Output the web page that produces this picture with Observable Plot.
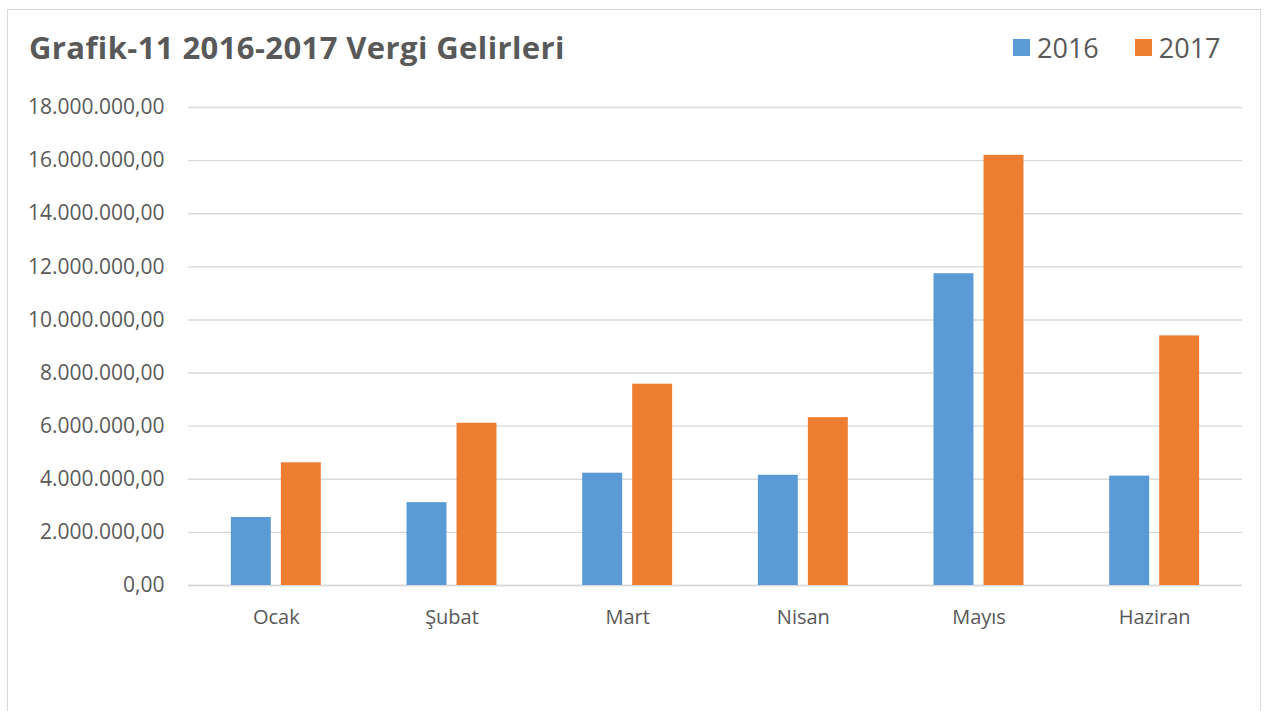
<!DOCTYPE html>
<html>
<head>
<meta charset="utf-8">
<script src="https://cdn.jsdelivr.net/npm/d3@7"></script>
<script src="https://cdn.jsdelivr.net/npm/@observablehq/plot@0.6"></script>
<style>
  html, body { margin: 0; padding: 0; background: #fff; }
  #wrap { position: relative; width: 1271px; height: 711px; overflow: hidden; font-family: "Open Sans", sans-serif; color: #595959; }
  #frame { position: absolute; left: 7px; top: 9px; width: 1254px; height: 720px; border: 1px solid #d9d9d9; box-sizing: border-box; }
  #title { position: absolute; left: 29px; top: 26px; font-size: 31px; font-weight: 700; color: #595959; white-space: nowrap; letter-spacing: 0.4px; }
  #legend { position: absolute; left: 1013px; top: 29px; display: flex; align-items: center; font-size: 27px; color: #595959; white-space: nowrap; }
  .sw { display: inline-block; width: 17px; height: 17px; margin-right: 7px; }
  .item { display: flex; align-items: center; margin-right: 36px; }
  #chart { position: absolute; left: 0; top: 80px; }
</style>
</head>
<body>
<div id="wrap">
  <div id="frame"></div>
  <div id="title">Grafik-11 2016-2017 Vergi Gelirleri</div>
  <div id="legend"></div>
  <div id="chart"></div>
</div>
<script>
const months = ["Ocak", "Şubat", "Mart", "Nisan", "Mayıs", "Haziran"];
const series = ["2016", "2017"];
const v2016 = [2560000, 3120000, 4230000, 4150000, 11740000, 4120000];
const v2017 = [4620000, 6110000, 7580000, 6320000, 16200000, 9400000];
const yTicks = [0, 2000000, 4000000, 6000000, 8000000, 10000000, 12000000, 14000000, 16000000, 18000000];
const colors = ["#5B9BD5", "#ED7D31"];

const rows2016 = months.map((m, i) => ({month: m, year: series[0], value: v2016[i]}));
const rows2017 = months.map((m, i) => ({month: m, year: series[1], value: v2017[i]}));

const trFormat = d3.formatLocale({decimal: ",", thousands: ".", grouping: [3], currency: ["", ""]}).format(",.2f");

const chart = Plot.plot({
  width: 1271,
  height: 600,
  marginTop: 27,
  marginBottom: 95,
  marginLeft: 188,
  marginRight: 29,
  style: {fontFamily: "Open Sans, sans-serif", fontSize: "20px", color: "#595959", background: "transparent"},
  x: {domain: months, paddingInner: 0.488, paddingOuter: 0.244, round: false, label: null},
  y: {domain: [0, 18000000], label: null},
  marks: [
    Plot.gridY(yTicks, {stroke: "#d9d9d9", strokeOpacity: 1, strokeWidth: 1.4}),
    Plot.ruleY([0], {stroke: "#d9d9d9", strokeWidth: 1.6}),
    Plot.barY(rows2016, {x: "month", y: "value", fill: colors[0], insetRight: 50}),
    Plot.barY(rows2017, {x: "month", y: "value", fill: colors[1], insetLeft: 50}),
    Plot.axisY(yTicks, {tickFormat: trFormat, tickSize: 0, tickPadding: 24, fontSize: 21, label: null}),
    Plot.axisX({tickSize: 0, tickPadding: 24, label: null})
  ]
});
document.getElementById("chart").appendChild(chart);

const legend = document.getElementById("legend");
series.forEach((s, i) => {
  const item = document.createElement("div");
  item.className = "item";
  const sw = document.createElement("span");
  sw.className = "sw";
  sw.style.background = colors[i];
  const t = document.createElement("span");
  t.textContent = s;
  item.appendChild(sw);
  item.appendChild(t);
  legend.appendChild(item);
});
</script>
</body>
</html>
